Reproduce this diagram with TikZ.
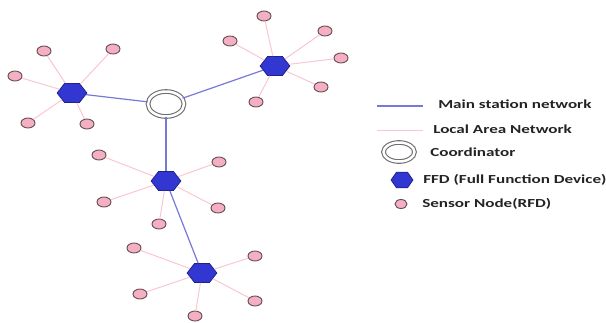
\documentclass[tikz,border=0pt]{standalone}
\usepackage{fontspec}
\setmainfont{Carlito}
\usetikzlibrary{shapes.geometric}
\definecolor{mainblue}{RGB}{120,120,215}
\definecolor{lanpink}{RGB}{250,198,210}
\definecolor{ffdfill}{RGB}{50,55,210}
\definecolor{ffddraw}{RGB}{30,35,140}
\definecolor{sensfill}{RGB}{245,175,195}
\definecolor{sensdraw}{RGB}{95,75,80}
\definecolor{coordgray}{RGB}{110,110,110}
\definecolor{txt}{RGB}{35,35,35}
\begin{document}
\begin{tikzpicture}[x=1pt,y=-1pt,
  ffd/.style={regular polygon, regular polygon sides=6, fill=ffdfill, draw=ffddraw, line width=0.8pt, minimum size=22pt, inner sep=0pt, xscale=1.35, transform shape},
  ffdsmall/.style={ffd, minimum size=18pt, xscale=0.9},
  sensor/.style={ellipse, fill=sensfill, draw=sensdraw, line width=0.9pt, minimum width=14pt, minimum height=10pt, inner sep=0pt},
  sensorsmall/.style={sensor, minimum width=12pt, minimum height=9pt},
  coord/.style={ellipse, draw=coordgray, line width=1.1pt, fill=white, minimum width=36pt, minimum height=25pt, inner sep=0pt, double=white, double distance=2.5pt},
  coordsmall/.style={coord, minimum width=31pt, minimum height=19pt},
  mainline/.style={draw=mainblue, line width=1.2pt},
  lanline/.style={draw=lanpink, line width=1pt},
  legtext/.style={font=\fontsize{12.3}{14}\selectfont\bfseries, text=txt, anchor=west, inner sep=0pt, xscale=1.39, transform shape}
]
\useasboundingbox (0,0) rectangle (606,322);
% coordinator
\node[coord] (C) at (166,104) {};
% FFDs
\node[ffd] (F1) at (72,93) {};
\node[ffd] (F2) at (275,66) {};
\node[ffd] (F3) at (166,181) {};
\node[ffd] (F4) at (202,273) {};
% sensors of F1
\node[sensor] (s11) at (44,51) {};
\node[sensor] (s12) at (113,49) {};
\node[sensor] (s13) at (15,76) {};
\node[sensor] (s14) at (28,123) {};
\node[sensor] (s15) at (87,124) {};
% sensors of F2
\node[sensor] (s21) at (264,16) {};
\node[sensor] (s22) at (325,31) {};
\node[sensor] (s23) at (230,41) {};
\node[sensor] (s24) at (341,58) {};
\node[sensor] (s25) at (321,87) {};
\node[sensor] (s26) at (256,102) {};
% sensors of F3
\node[sensor] (s31) at (99,155) {};
\node[sensor] (s32) at (219,162) {};
\node[sensor] (s33) at (104,202) {};
\node[sensor] (s34) at (218,208) {};
\node[sensor] (s35) at (159,224) {};
% sensors of F4
\node[sensor] (s41) at (134,248) {};
\node[sensor] (s42) at (255,256) {};
\node[sensor] (s43) at (140,294) {};
\node[sensor] (s44) at (255,301) {};
\node[sensor] (s45) at (195,316) {};
% main network
\draw[mainline] (C) -- (F1);
\draw[mainline] (C) -- (F2);
\draw[mainline] (C) -- (F3);
\draw[mainline] (F3) -- (F4);
% local area network
\foreach \s in {s11,s12,s13,s14,s15} \draw[lanline] (F1) -- (\s);
\foreach \s in {s21,s22,s23,s24,s25,s26} \draw[lanline] (F2) -- (\s);
\foreach \s in {s31,s32,s33,s34,s35} \draw[lanline] (F3) -- (\s);
\foreach \s in {s41,s42,s43,s44,s45} \draw[lanline] (F4) -- (\s);
% legend
\coordinate (lm1) at (377,106);
\coordinate (lm2) at (423,106);
\coordinate (ll1) at (377,130);
\coordinate (ll2) at (423,130);
\draw[mainline] (lm1) -- (lm2);
\draw[lanline] (ll1) -- (ll2);
\node[coordsmall] (lc) at (399,152) {};
\node[ffdsmall] (lf) at (402,180) {};
\node[sensorsmall] (ls) at (401,204) {};
\node[legtext] (t1) at (438,104) {Main station network};
\node[legtext] (t2) at (433,129) {Local Area Network};
\node[legtext] (t3) at (430,152) {Coordinator};
\node[legtext] (t4) at (423,180) {FFD (Full Function Device)};
\node[legtext] (t5) at (422,204) {Sensor Node(RFD)};
\end{tikzpicture}
\end{document}
